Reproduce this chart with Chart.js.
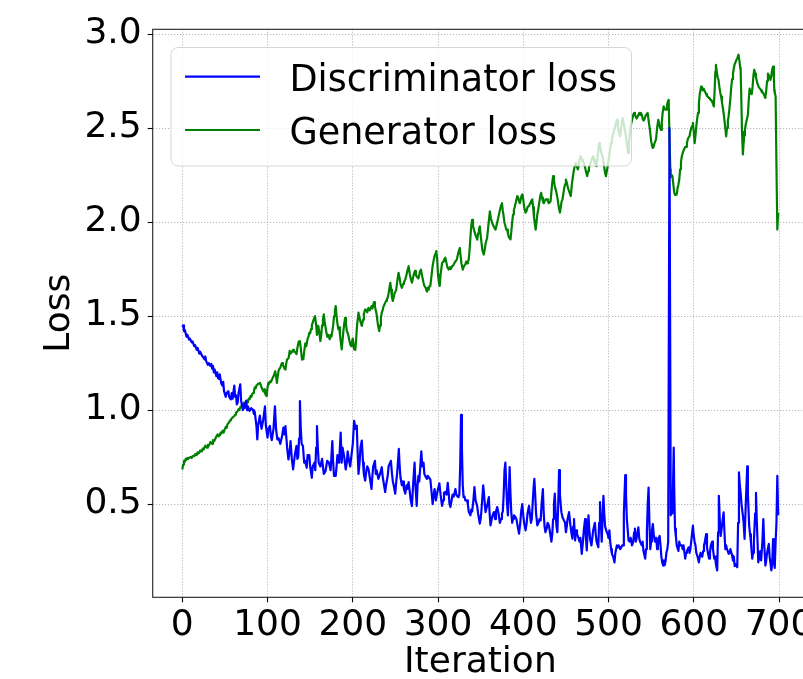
<!DOCTYPE html>
<html>
<head>
<meta charset="utf-8">
<script src="https://cdn.jsdelivr.net/npm/chart.js@4"></script>
<style>
html, body { margin: 0; padding: 0; overflow: hidden; background: #fff; }
#wrap { position: absolute; left: 0; top: 0; width: 808px; height: 679px; }
</style>
</head>
<body>
<div id="wrap"><canvas id="c"></canvas></div>
<script>
// ---- data ----
const discIter = [0,1,2,3,5,6,8,9,11,12,14,15,17,18,20,21,23,24.6,26,27,28,30,31,33,34,35,36,37,38,40,41,42,43.5,44,45.7,47,48,49,51,52,54,55,57,58,59,61,62,63,64,65,66,68,69,71,72,73,75,76,77,79,81,83,84,85,87,88,89,91,92,93,95,97,98,100,101,102.8,104,105,107,108.7,110,111.5,113,115,117,118.6,120,121,123,124.5,126,127,128.5,130,132,134,135,136,137,138,139,140,141.5,143,144,146,147,149,150,152,153,155,156,157,158,159,160,162,164,166,168,170,172,174,176,177,178,180,181,182,184,185.8,187,188,190,191.7,193,194,196,197,199,200,201.6,203,204.7,205.5,206.7,208,209,210.6,212,213,214.5,216,217,218.4,220,222,223,224,226,227,228,230,232,234,235,236,238,239,241,242,244.7,246,247,248,249.8,251,252,254,255,256,257.6,259,260,261.6,263,264,265.5,267,268,269.4,271,272.5,273.5,275,276,277,278,280.4,281.5,283,284,285,287,288,289.5,291,292.5,293.7,295,296,297.5,298.8,300,301.6,303,304.7,306,307,308.6,310,311.4,312.5,313.5,314.5,316,317,318.5,320.4,321.5,323,324,325,326,327,328,329,330,331,332,334,335,336,338,339,340,341.5,342.7,344,345.9,347,349,350,351,353,354,355.7,357,358,359.6,360.5,361.6,363,364,365.5,367,368,369.4,371,372.5,374,375,376,377,378,379,380,381,382,383,384,385,386,387,388,389,391,392,393.5,395,396.5,397.5,398.8,400,401,402.7,404,405,406.7,408,409,410,411,412,413,414,415,416.5,418,419,420.4,421.5,423,424,425,426,427.5,428.5,430,431,432,433,434,435,436,437,438,439,440,441,442,443,444.7,446,447,449,450,451,452,453.7,455,456,457.6,458.5,459.5,460.8,462,463,464,466,467,468.6,470,471,472.5,473.5,474.5,475.5,476.5,477.5,478.5,480,481,482,484,485,486,488,489,490,491,492,493,494,495,496,498,499,500,501,502,503,504,505.5,507,508,509.8,511,512,513.7,515,516,517,518,519.6,520.5,521.5,523.5,525,526,527.5,529,530,531,532,533,535,536,537,539,540,541,543,544,545,546,547,548,549,550,551,552,553,554.5,556,557,558,559,560,561,562,563,564,565,566,567,568,569,570,571.5,573,574,575,576.5,577,578,579,580,582,583,584,586,587,588,590,591,592,594,595,596,597,599,600,601,602,603,604.5,606,607,608,610,611,612,613,614.5,615.5,617,618,619,620,621.6,622.5,624,625,626,627.5,628.5,629.4,630.5,631.5,633,634,635,636,637,638,639,641,642,643,645,646,647,648,649,651,652,653,654,655,656,657.6,658.5,659.6,661,662.7,663.5,665,666,667,668.6,669.5,670.5,672,673,674,675.7,677,678,679,680.5,681.6,682.5,684,685,686,688,689,691,692,693,694,695,696,697,698,699];
const discLoss = [1.443,1.45,1.42,1.425,1.39,1.40,1.375,1.38,1.36,1.365,1.34,1.345,1.32,1.33,1.30,1.31,1.29,1.28,1.27,1.285,1.26,1.24,1.25,1.235,1.245,1.22,1.235,1.20,1.215,1.18,1.20,1.17,1.165,1.19,1.142,1.13,1.15,1.10,1.07,1.09,1.10,1.07,1.057,1.09,1.06,1.13,1.07,1.08,1.03,1.04,1.09,1.137,1.05,1.0,1.03,1.01,1.05,1.00,1.02,0.995,1.01,1.0,0.98,0.99,0.915,0.844,0.92,0.97,0.93,0.90,0.95,1.02,0.92,0.853,0.90,0.915,0.86,0.84,0.90,1.02,0.90,0.844,0.85,0.82,0.86,0.906,0.87,0.915,0.80,0.737,0.78,0.835,0.74,0.684,0.76,0.81,0.74,0.75,0.85,1.048,0.90,0.82,0.81,0.72,0.73,0.693,0.76,0.76,0.70,0.64,0.70,0.72,0.68,0.80,0.915,0.80,0.72,0.70,0.74,0.66,0.675,0.73,0.72,0.68,0.835,0.72,0.65,0.65,0.70,0.76,0.72,0.88,0.72,0.80,0.75,0.684,0.72,0.78,0.72,0.70,0.78,0.82,0.943,0.90,0.917,0.80,0.66,0.72,0.80,0.838,0.72,0.66,0.625,0.68,0.70,0.687,0.64,0.58,0.65,0.70,0.73,0.66,0.68,0.634,0.66,0.696,0.65,0.62,0.564,0.60,0.65,0.70,0.73,0.66,0.62,0.60,0.555,0.62,0.66,0.793,0.70,0.64,0.60,0.62,0.58,0.555,0.60,0.58,0.617,0.56,0.52,0.49,0.62,0.72,0.60,0.49,0.60,0.65,0.62,0.78,0.70,0.72,0.66,0.65,0.634,0.65,0.64,0.63,0.56,0.50,0.55,0.58,0.52,0.555,0.58,0.61,0.55,0.49,0.52,0.56,0.564,0.55,0.613,0.56,0.50,0.484,0.52,0.55,0.54,0.58,0.55,0.54,0.537,0.55,0.70,0.974,0.80,0.60,0.537,0.54,0.52,0.52,0.50,0.46,0.44,0.47,0.46,0.52,0.59,0.52,0.49,0.45,0.396,0.42,0.47,0.60,0.55,0.457,0.48,0.50,0.537,0.45,0.387,0.42,0.44,0.457,0.42,0.46,0.484,0.45,0.40,0.42,0.45,0.46,0.55,0.68,0.72,0.60,0.50,0.44,0.55,0.696,0.55,0.45,0.40,0.42,0.44,0.43,0.42,0.38,0.343,0.40,0.46,0.50,0.44,0.40,0.36,0.40,0.45,0.49,0.44,0.40,0.42,0.50,0.58,0.634,0.55,0.45,0.387,0.40,0.42,0.413,0.50,0.58,0.45,0.38,0.35,0.37,0.40,0.387,0.36,0.33,0.30,0.34,0.42,0.50,0.555,0.45,0.38,0.35,0.50,0.68,0.55,0.457,0.43,0.42,0.40,0.35,0.38,0.42,0.457,0.40,0.36,0.316,0.38,0.42,0.306,0.36,0.34,0.33,0.30,0.32,0.235,0.30,0.36,0.42,0.32,0.253,0.35,0.44,0.36,0.31,0.28,0.32,0.36,0.40,0.34,0.30,0.27,0.40,0.51,0.40,0.30,0.42,0.544,0.45,0.38,0.35,0.34,0.32,0.36,0.30,0.26,0.235,0.22,0.19,0.24,0.28,0.27,0.28,0.26,0.27,0.28,0.28,0.45,0.654,0.55,0.42,0.306,0.30,0.32,0.28,0.30,0.35,0.37,0.30,0.32,0.376,0.32,0.30,0.28,0.30,0.25,0.21,0.26,0.35,0.50,0.588,0.40,0.26,0.30,0.36,0.394,0.34,0.30,0.32,0.26,0.28,0.32,0.33,0.28,0.22,0.19,0.173,0.20,0.175,0.20,0.244,0.26,0.30,2.50,0.44,0.55,0.45,0.80,0.60,0.37,0.33,0.28,0.25,0.30,0.28,0.28,0.26,0.28,0.21,0.24,0.25,0.27,0.24,0.26,0.30,0.385,0.33,0.30,0.28,0.24,0.22,0.19,0.22,0.24,0.22,0.25,0.28,0.30,0.34,0.27,0.23,0.21,0.24,0.28,0.30,0.26,0.21,0.22,0.18,0.147,0.35,0.544,0.42,0.33,0.38,0.42,0.456,0.35,0.26,0.28,0.26,0.235,0.24,0.26,0.226,0.20,0.22,0.17,0.18,0.164,0.40,0.668,0.60,0.56,0.50,0.44,0.40,0.314,0.50,0.70,0.55,0.385,0.34,0.30,0.21,0.24,0.30,0.45,0.56,0.40,0.19,0.22,0.25,0.20,0.30,0.42,0.30,0.173,0.20,0.24,0.288,0.22,0.147,0.18,0.314,0.20,0.16,0.30,0.40,0.65,0.44];

const genIter = [0,1,2,3,4,5,6,7,8,10,11,12,14,15,16,17,18,19,20,21,22,23,24,25,26,27,28,29,30,31,32,33,34,35,36,37.5,39,40,41.5,42.5,44,45,46,47.4,48.5,50,51,52,53,54,55,56,57,58,59,60,61,62,63,64,65,66,67,68,69,70,71,72,73,74,75,76,77,78,79,80,81,82,83,84,85,86,87,88,89,90,91,92,93,94,95,96,97,98,99,100,101,102,103,104,105,106,107,108,109,110,111,112,113,114,115,116,117,118,119,120,121,122,123,124.7,126,127,128.6,130,131,132.5,134,135,136.5,137,138,139,140.4,141,142,143,144.3,145.5,147,148,149,150,151,152,153,154,155.7,157,158,159.6,160.5,162,163,164,165,166,167,168,170,171,173,174,175,176,177,178,179,180,181,182,183,184,185,186,187,188,189,190,191,192,193,194,195,196,197,198,199,200,201.6,203,204,205,206.7,208,209,210.6,212,213,214.5,216,217,218.4,220,221,222,223,224,225,226,227,228,229,230,231,232,233,234,235,236,237,238,239,240,241,242,243,244,245,246,247,248,249,250,251,252,253.7,255,256,257.6,259,260,261.6,263,264,265.5,267,268,269.4,270.5,271.5,273,274,275,277,278,279,280,281.5,283,284,285.5,287,288,289,290,291,292,293.5,295,296,297,298,299,300,301,302,303,304.7,306,307,308.6,310,311,312.5,314,315,316.5,318,319,320.4,322,323,324,325.5,326.5,327.5,329,330,331,332,333,334,335,336,337,338,339,340,341,342.7,344,345,346,347,348,349,350,351,352,353.7,355,356,357.6,359,360.8,362,363.5,365,366,367.5,369,370,371,372,373,374,375,376,377,378,379,380,381,382,383,385,386,387,388,389,390,391,392,393,394,395,396,397,398,399,400,401,402.7,404,405,406.7,408,409,410.6,411.5,412.5,413.5,414.5,415.5,416.5,418,419,420,421,422,423,424,425,426,428,429,430,432,433,434,435,436,437,439,440,441,442,443,444,445,446,447,448,449,450,451,452,453,454,455.7,457,458.8,460,461.6,462.5,464,465,466,467,468,469,470,471,472,473,474,475,476,477,479,480,481,482,483,484,485,486,487,488,489,490,491,492,493,494,495,496,497,498,499.6,501,502,503,504,505,506.7,508,509,510,511,512,513.7,515,516.5,518,519,520,521,522,523,524,525,526,527,528,529,530,531,532,533,534,535,536,537,538,539,540,541,542,543,544,545.9,547,548.6,550,551.8,553,554,555.7,557,558.4,559.5,560.5,561.6,562.5,563.5,564.7,566,567.5,568.5,569.5,570.6,571.5,572.5,573,574,575,576,577,578,579,580,581,582,583,584,585,586,587,588,589,590,591,592,593,594,595,596,597,598,599,600,601,602,603,604,605,606,607,608.6,609.5,610.5,611.5,612.5,613.5,614.5,615.5,616.5,617.5,618.5,619.5,620.4,621.5,622.5,623.5,624.5,625.3,626,627,628,629,630,631,632,633,634,635,636,637,638,639,640,640.8,641.8,643,644,645,646,646.7,648,649,650,651,652.5,653.5,654.5,655,655.8,656.6,657.6,658.5,659.2,660,661,662,663.5,664.5,665.5,666.5,668,669,670,671,672,673,674.5,676,677.6,679,680,681,682,683,684,685,686,687,688,689,690,691,692,693,694,694.5,695,696,697,698,699];
const genLoss = [0.684,0.71,0.73,0.725,0.74,0.735,0.745,0.74,0.746,0.75,0.745,0.755,0.755,0.765,0.76,0.762,0.775,0.77,0.773,0.785,0.78,0.785,0.795,0.79,0.80,0.81,0.805,0.80,0.815,0.81,0.817,0.83,0.825,0.82,0.84,0.835,0.85,0.86,0.87,0.86,0.865,0.88,0.875,0.89,0.88,0.90,0.91,0.905,0.924,0.93,0.935,0.945,0.95,0.955,0.96,0.965,0.968,0.975,0.985,0.99,0.995,1.005,1.00,1.015,1.02,1.03,1.025,1.04,1.04,1.035,1.045,1.04,1.05,1.06,1.057,1.075,1.07,1.085,1.09,1.10,1.12,1.115,1.13,1.135,1.14,1.14,1.145,1.135,1.12,1.11,1.10,1.11,1.09,1.08,1.074,1.12,1.145,1.14,1.153,1.15,1.16,1.17,1.18,1.19,1.206,1.18,1.144,1.18,1.21,1.22,1.225,1.24,1.25,1.24,1.23,1.22,1.215,1.25,1.27,1.276,1.315,1.30,1.31,1.32,1.31,1.31,1.297,1.33,1.364,1.35,1.367,1.33,1.268,1.27,1.27,1.31,1.355,1.34,1.38,1.39,1.41,1.408,1.43,1.45,1.465,1.48,1.50,1.45,1.40,1.447,1.42,1.367,1.40,1.45,1.48,1.509,1.47,1.44,1.39,1.40,1.376,1.40,1.39,1.42,1.45,1.50,1.53,1.553,1.50,1.46,1.43,1.44,1.40,1.36,1.323,1.37,1.42,1.46,1.49,1.46,1.42,1.41,1.394,1.37,1.35,1.34,1.36,1.38,1.323,1.32,1.38,1.45,1.518,1.49,1.47,1.447,1.48,1.51,1.535,1.53,1.52,1.544,1.53,1.54,1.553,1.54,1.56,1.574,1.55,1.53,1.509,1.47,1.44,1.42,1.45,1.49,1.518,1.53,1.55,1.56,1.57,1.58,1.59,1.597,1.62,1.65,1.677,1.64,1.60,1.58,1.60,1.62,1.63,1.64,1.68,1.73,1.70,1.67,1.65,1.67,1.68,1.694,1.72,1.74,1.765,1.72,1.70,1.677,1.70,1.72,1.74,1.72,1.71,1.70,1.72,1.74,1.747,1.71,1.677,1.66,1.65,1.63,1.65,1.64,1.66,1.66,1.70,1.76,1.80,1.82,1.83,1.845,1.80,1.72,1.68,1.66,1.72,1.78,1.79,1.80,1.81,1.78,1.76,1.747,1.76,1.75,1.765,1.77,1.78,1.79,1.80,1.82,1.84,1.862,1.82,1.78,1.747,1.76,1.77,1.774,1.79,1.78,1.79,1.80,1.85,1.92,1.98,2.012,1.98,1.95,1.93,1.92,1.906,1.94,1.96,1.977,1.93,1.89,1.85,1.827,1.86,1.89,1.915,1.98,2.057,2.02,1.995,1.98,1.97,1.96,1.99,2.01,2.03,2.05,2.07,2.09,2.10,2.06,2.03,1.995,1.98,1.96,1.96,1.94,1.92,1.908,1.95,2.00,2.04,2.065,2.08,2.10,2.12,2.138,2.13,2.11,2.10,2.12,2.14,2.147,2.12,2.08,2.05,2.06,2.08,2.085,2.10,2.11,2.12,2.08,2.03,1.99,1.96,2.00,2.04,2.08,2.11,2.14,2.155,2.13,2.11,2.10,2.11,2.12,2.12,2.11,2.10,2.11,2.16,2.21,2.244,2.22,2.19,2.155,2.13,2.10,2.07,2.05,2.08,2.11,2.12,2.15,2.18,2.20,2.226,2.21,2.19,2.173,2.16,2.138,2.20,2.26,2.29,2.315,2.30,2.28,2.30,2.33,2.35,2.34,2.33,2.32,2.315,2.30,2.28,2.26,2.244,2.27,2.29,2.315,2.33,2.34,2.35,2.33,2.31,2.30,2.297,2.34,2.38,2.42,2.40,2.38,2.36,2.35,2.32,2.29,2.26,2.244,2.27,2.315,2.36,2.39,2.42,2.44,2.46,2.49,2.51,2.53,2.544,2.51,2.48,2.456,2.51,2.553,2.52,2.49,2.473,2.43,2.40,2.367,2.42,2.47,2.51,2.53,2.55,2.57,2.58,2.57,2.56,2.55,2.56,2.57,2.58,2.57,2.58,2.57,2.55,2.54,2.544,2.56,2.57,2.58,2.54,2.49,2.43,2.394,2.40,2.42,2.44,2.50,2.544,2.52,2.50,2.49,2.53,2.58,2.615,2.60,2.597,2.62,2.64,2.65,2.45,2.28,2.24,2.25,2.244,2.20,2.16,2.144,2.15,2.147,2.18,2.20,2.226,2.28,2.32,2.35,2.367,2.38,2.39,2.40,2.40,2.42,2.44,2.45,2.456,2.48,2.50,2.51,2.527,2.48,2.42,2.46,2.51,2.55,2.58,2.63,2.68,2.72,2.71,2.70,2.71,2.70,2.69,2.68,2.67,2.668,2.66,2.66,2.65,2.65,2.64,2.63,2.615,2.70,2.80,2.836,2.80,2.77,2.756,2.72,2.69,2.668,2.64,2.61,2.58,2.54,2.50,2.456,2.50,2.54,2.56,2.60,2.66,2.72,2.76,2.79,2.81,2.84,2.85,2.862,2.87,2.89,2.86,2.82,2.81,2.65,2.48,2.359,2.42,2.46,2.49,2.52,2.54,2.57,2.65,2.71,2.69,2.68,2.72,2.78,2.81,2.79,2.77,2.74,2.72,2.71,2.70,2.69,2.69,2.68,2.67,2.66,2.70,2.75,2.79,2.78,2.77,2.756,2.78,2.81,2.827,2.76,2.70,2.686,2.67,2.30,1.96,2.05];

const seriesLabels = ['Discriminator loss', 'Generator loss'];
const seriesColors = ['#0000ff', '#008000'];
const xTickValues = [0, 100, 200, 300, 400, 500, 600, 700];
const yTickValues = [0.5, 1.0, 1.5, 2.0, 2.5, 3.0];
const yTickLabels = ['0.5', '1.0', '1.5', '2.0', '2.5', '3.0'];
const xTitle = 'Iteration';
const yTitle = 'Loss';

// ---- chart ----
Chart.defaults.font.family = "'DejaVu Sans', sans-serif";
Chart.defaults.color = '#000';

const FONT = 36;

const spines = {
  id: 'spines',
  afterDatasetsDraw(chart) {
    const {ctx, chartArea: a} = chart;
    ctx.save();
    ctx.strokeStyle = '#222';
    ctx.lineWidth = 1.1;
    ctx.strokeRect(a.left, a.top, a.right - a.left, a.bottom - a.top);
    ctx.restore();
  }
};

const legendBox = {
  id: 'legendBox',
  afterDatasetsDraw(chart) {
    const {ctx} = chart;
    const x0 = 171, y0 = 47.5, x1 = 631.5, y1 = 166, r = 7;
    ctx.save();
    ctx.beginPath();
    ctx.moveTo(x0 + r, y0);
    ctx.lineTo(x1 - r, y0);
    ctx.arcTo(x1, y0, x1, y0 + r, r);
    ctx.lineTo(x1, y1 - r);
    ctx.arcTo(x1, y1, x1 - r, y1, r);
    ctx.lineTo(x0 + r, y1);
    ctx.arcTo(x0, y1, x0, y1 - r, r);
    ctx.lineTo(x0, y0 + r);
    ctx.arcTo(x0, y0, x0 + r, y0, r);
    ctx.closePath();
    ctx.fillStyle = 'rgba(255,255,255,0.8)';
    ctx.fill();
    ctx.strokeStyle = 'rgba(204,204,204,0.8)';
    ctx.lineWidth = 1;
    ctx.stroke();
    const rows = [76.7, 130];
    const bases = [90.7, 143.5];
    chart.data.datasets.forEach((ds, i) => {
      ctx.beginPath();
      ctx.strokeStyle = ds.borderColor;
      ctx.lineWidth = 2.2;
      ctx.moveTo(185, rows[i]);
      ctx.lineTo(260, rows[i]);
      ctx.stroke();
      ctx.fillStyle = '#000';
      ctx.font = "36.5px 'DejaVu Sans'";
      ctx.textBaseline = 'alphabetic';
      ctx.textAlign = 'left';
      ctx.fillText(ds.label, 289.5, bases[i]);
    });
    ctx.restore();
  }
};

const toPts = (xs, ys) => xs.map((x, i) => ({x: x, y: ys[i]}));

new Chart(document.getElementById('c'), {
  type: 'line',
  data: {
    datasets: [
      { label: seriesLabels[0], data: toPts(discIter, discLoss), borderColor: seriesColors[0], borderWidth: 2.2, pointRadius: 0, tension: 0, fill: false, borderJoinStyle: 'round' },
      { label: seriesLabels[1], data: toPts(genIter, genLoss), borderColor: seriesColors[1], borderWidth: 2.2, pointRadius: 0, tension: 0, fill: false, borderJoinStyle: 'round' }
    ]
  },
  options: {
    responsive: true,
    maintainAspectRatio: false,
    animation: false,
    devicePixelRatio: 1,
    layout: { padding: { top: 29.3, left: 0, right: 0, bottom: 0 } },
    plugins: { legend: { display: false }, tooltip: { enabled: false } },
    scales: {
      x: {
        type: 'linear',
        min: -34.7,
        max: 734,
        afterBuildTicks: (s) => { s.ticks = xTickValues.map(v => ({value: v})); },
        afterFit: (s) => { s.height = 81.7; s.paddingLeft = 0; s.paddingRight = 0; },
        ticks: { font: { size: FONT }, padding: 2, maxRotation: 0, autoSkip: false, callback: (v) => String(v) },
        grid: { color: '#b8b8b8', lineWidth: 1, tickLength: 5, tickColor: '#000', tickWidth: 1.1, tickBorderDash: [] },
        border: { display: false, dash: [1.2, 1.8] },
        title: { display: true, text: xTitle, font: { size: FONT, lineHeight: '32px' }, padding: { top: 0, bottom: 0 } }
      },
      y: {
        type: 'linear',
        min: 0.004,
        max: 3.025,
        afterBuildTicks: (s) => { s.ticks = yTickValues.map(v => ({value: v})); },
        afterFit: (s) => { s.width = 152.7; s.paddingTop = 0; s.paddingBottom = 0; },
        ticks: { font: { size: FONT }, padding: 6, autoSkip: false, callback: (v) => yTickLabels[yTickValues.indexOf(v)] },
        grid: { color: '#b8b8b8', lineWidth: 1, tickLength: 5, tickColor: '#000', tickWidth: 1.1, tickBorderDash: [] },
        border: { display: false, dash: [1.2, 1.8] },
        title: { display: true, text: yTitle, font: { size: FONT, lineHeight: 1.2 }, padding: { top: 38.4, bottom: 0 } }
      }
    }
  },
  plugins: [spines, legendBox]
});
</script>
</body>
</html>
